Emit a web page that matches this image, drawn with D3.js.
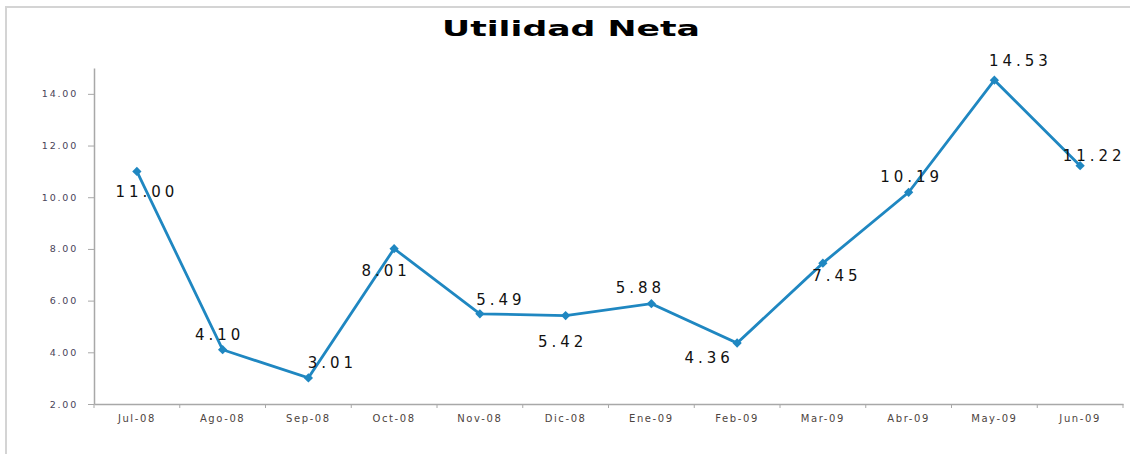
<!DOCTYPE html>
<html>
<head>
<meta charset="utf-8">
<script src="https://cdn.jsdelivr.net/npm/d3@7"></script>
<style>
  body { margin: 0; background: #fff; }
  text { font-family: "DejaVu Sans", Verdana, sans-serif; }
</style>
</head>
<body>
<div id="chart"></div>
<script>
// datos
const months = ["Jul-08","Ago-08","Sep-08","Oct-08","Nov-08","Dic-08","Ene-09","Feb-09","Mar-09","Abr-09","May-09","Jun-09"];
const utilidad = [11.00, 4.10, 3.01, 8.01, 5.49, 5.42, 5.88, 4.36, 7.45, 10.19, 14.53, 11.22];
const yTicks = [2, 4, 6, 8, 10, 12, 14];

// posicion de las etiquetas respecto al punto (como en Excel)
const labelOffset = [[10,21],[-3,-15],[24,-15],[-8,22],[21,-14],[-3,26],[-11,-16],[-28,15],[14,13],[3,-15],[26,-19],[14,-10]];

const width = 1130, height = 454;
const margin = {left: 94, right: 7, top: 68, bottom: 50};

const svg = d3.select("#chart").append("svg")
  .attr("width", width)
  .attr("height", height);

// marco
svg.append("rect")
  .attr("x", 6).attr("y", 7)
  .attr("width", width + 20).attr("height", height + 20)
  .attr("fill", "none")
  .attr("stroke", "#d4d4d4")
  .attr("stroke-width", 2);

svg.append("text")
  .attr("x", 571).attr("y", 36)
  .attr("text-anchor", "middle")
  .attr("font-size", 21)
  .attr("font-weight", "bold")
  .attr("textLength", 258)
  .attr("lengthAdjust", "spacingAndGlyphs")
  .text("Utilidad Neta");

const x = d3.scaleBand()
  .domain(months)
  .range([margin.left, width - margin.right]);

const y = d3.scaleLinear()
  .domain([2, 15])
  .range([height - margin.bottom, margin.top]);

// eje y
const yAxis = svg.append("g")
  .attr("transform", `translate(${margin.left},0)`)
  .call(d3.axisLeft(y).tickValues(yTicks).tickFormat(d3.format(".2f")).tickSize(6).tickSizeOuter(0));
yAxis.select(".domain").attr("stroke", "#a8a8a8").attr("stroke-width", 1.5);
yAxis.selectAll(".tick line").attr("stroke", "#a8a8a8");
yAxis.selectAll(".tick text")
  .attr("x", -16)
  .attr("fill", "#4a4458")
  .attr("font-size", 9.5)
  .attr("letter-spacing", 1.8);

// eje x
const xAxis = svg.append("g")
  .attr("transform", `translate(0,${height - margin.bottom})`)
  .call(d3.axisBottom(x).tickSize(0).tickSizeOuter(0));
xAxis.select(".domain").attr("stroke", "#a8a8a8").attr("stroke-width", 1.5);
xAxis.selectAll(".tick text")
  .attr("y", 11)
  .attr("fill", "#4d4440")
  .attr("font-size", 10)
  .attr("letter-spacing", 1.6);

// marcas entre categorias
const bounds = months.map(m => x(m)).concat([x.range()[1]]);
svg.append("g").selectAll("line")
  .data(bounds)
  .enter().append("line")
    .attr("x1", d => d).attr("x2", d => d)
    .attr("y1", height - margin.bottom).attr("y2", height - margin.bottom + 4)
    .attr("stroke", "#a8a8a8");

const cx = d => x(d) + x.bandwidth() / 2;

const lineGenerator = d3.line()
  .x((d, i) => cx(months[i]))
  .y(d => y(d));

svg.append("path")
  .datum(utilidad)
  .attr("d", lineGenerator)
  .attr("fill", "none")
  .attr("stroke", "#1f87c1")
  .attr("stroke-width", 2.8);

svg.append("g").selectAll("path")
  .data(utilidad)
  .enter().append("path")
    .attr("d", d3.symbol(d3.symbolDiamond2, 55))
    .attr("transform", (d, i) => `translate(${cx(months[i])},${y(d)})`)
    .attr("fill", "#1f87c1");

svg.append("g").selectAll("text")
  .data(utilidad)
  .enter().append("text")
    .attr("x", (d, i) => cx(months[i]) + labelOffset[i][0])
    .attr("y", (d, i) => y(d) + labelOffset[i][1])
    .attr("text-anchor", "middle")
    .attr("dominant-baseline", "central")
    .attr("font-size", 15)
    .attr("letter-spacing", 4)
    .attr("fill", "#111")
    .text(d => d.toFixed(2));
</script>
</body>
</html>
